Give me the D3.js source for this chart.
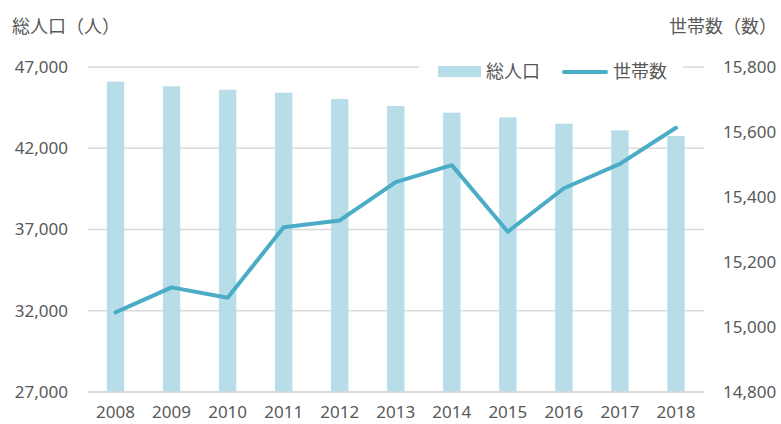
<!DOCTYPE html>
<html>
<head>
<meta charset="utf-8">
<script src="https://cdn.jsdelivr.net/npm/d3@7"></script>
<style>
  body { margin: 0; background: #fff; }
  svg { display: block; }
</style>
</head>
<body>
<div id="chart"></div>
<script>
// Data
const years = ['2008', '2009', '2010', '2011', '2012', '2013', '2014', '2015', '2016', '2017', '2018'];
const population = [46100, 45810, 45600, 45420, 45030, 44600, 44190, 43900, 43510, 43100, 42750];
const households = [15045, 15122, 15090, 15307, 15328, 15446, 15498, 15293, 15427, 15502, 15613];
const leftTicks = [27000, 32000, 37000, 42000, 47000];
const rightTicks = [14800, 15000, 15200, 15400, 15600, 15800];

const width = 781;
const height = 424;
const plot = { left: 87.5, right: 704, top: 67, bottom: 392 };
const textColor = '#595959';
const gridColor = '#d9d9d9';
const barColor = '#b7dde8';
const lineColor = '#4bacc6';
const numFont = '"Noto Sans", sans-serif';
const jpFont = '"Noto Sans CJK JP", sans-serif';
const format = d3.format(',');

const svg = d3.select('#chart').append('svg')
    .attr('width', width)
    .attr('height', height);

// Scales
const x = d3.scaleBand()
    .domain(years)
    .range([plot.left, plot.right])
    .paddingInner(0.69)
    .paddingOuter(0.345);
const yLeft = d3.scaleLinear().domain([27000, 47000]).range([plot.bottom, plot.top]);
const yRight = d3.scaleLinear().domain([14800, 15800]).range([plot.bottom, plot.top]);

// Gridlines
svg.append('g')
    .selectAll('line')
    .data(leftTicks)
    .join('line')
    .attr('x1', plot.left)
    .attr('x2', plot.right)
    .attr('y1', d => yLeft(d))
    .attr('y2', d => yLeft(d))
    .attr('stroke', gridColor)
    .attr('stroke-width', 1.5);

// Left axis labels
svg.append('g')
    .selectAll('text')
    .data(leftTicks)
    .join('text')
    .attr('x', 68)
    .attr('y', d => yLeft(d))
    .attr('dy', '0.35em')
    .attr('text-anchor', 'end')
    .attr('fill', textColor)
    .style('font-family', numFont)
    .style('font-size', '17px')
    .text(d => format(d));

// Right axis labels
svg.append('g')
    .selectAll('text')
    .data(rightTicks)
    .join('text')
    .attr('x', 723)
    .attr('y', d => yRight(d))
    .attr('dy', '0.35em')
    .attr('text-anchor', 'start')
    .attr('fill', textColor)
    .style('font-family', numFont)
    .style('font-size', '17px')
    .text(d => format(d));

// Bars
svg.append('g')
    .selectAll('rect')
    .data(years)
    .join('rect')
    .attr('x', d => x(d))
    .attr('width', x.bandwidth())
    .attr('y', (d, i) => yLeft(population[i]))
    .attr('height', (d, i) => plot.bottom - yLeft(population[i]))
    .attr('fill', barColor);

// Baseline
svg.append('line')
    .attr('x1', plot.left)
    .attr('x2', plot.right)
    .attr('y1', plot.bottom)
    .attr('y2', plot.bottom)
    .attr('stroke', gridColor)
    .attr('stroke-width', 1.5);

// X labels
svg.append('g')
    .selectAll('text')
    .data(years)
    .join('text')
    .attr('x', d => x(d) + x.bandwidth() / 2)
    .attr('y', 418)
    .attr('text-anchor', 'middle')
    .attr('fill', textColor)
    .style('font-family', numFont)
    .style('font-size', '17px')
    .text(d => d);

// Line
const line = d3.line()
    .x((d, i) => x(years[i]) + x.bandwidth() / 2)
    .y(d => yRight(d));

svg.append('path')
    .datum(households)
    .attr('d', line)
    .attr('fill', 'none')
    .attr('stroke', lineColor)
    .attr('stroke-width', 4)
    .attr('stroke-linejoin', 'round')
    .attr('stroke-linecap', 'round');

// Axis titles
svg.append('text')
    .attr('x', 12)
    .attr('y', 33)
    .attr('fill', textColor)
    .style('font-family', jpFont)
    .style('font-size', '18px')
    .text('総人口（人）');

svg.append('text')
    .attr('x', 777)
    .attr('y', 33)
    .attr('text-anchor', 'end')
    .attr('fill', textColor)
    .style('font-family', jpFont)
    .style('font-size', '18px')
    .text('世帯数（数）');

// Legend
const legend = svg.append('g');
legend.append('rect')
    .attr('x', 419)
    .attr('y', 58)
    .attr('width', 264)
    .attr('height', 22)
    .attr('fill', '#fff');
legend.append('rect')
    .attr('x', 438)
    .attr('y', 66)
    .attr('width', 43)
    .attr('height', 11)
    .attr('fill', barColor);
legend.append('text')
    .attr('x', 486)
    .attr('y', 78)
    .attr('fill', textColor)
    .style('font-family', jpFont)
    .style('font-size', '18px')
    .text('総人口');
legend.append('line')
    .attr('x1', 564)
    .attr('x2', 606)
    .attr('y1', 72)
    .attr('y2', 72)
    .attr('stroke', lineColor)
    .attr('stroke-width', 4)
    .attr('stroke-linecap', 'round');
legend.append('text')
    .attr('x', 613)
    .attr('y', 78)
    .attr('fill', textColor)
    .style('font-family', jpFont)
    .style('font-size', '18px')
    .text('世帯数');
</script>
</body>
</html>
